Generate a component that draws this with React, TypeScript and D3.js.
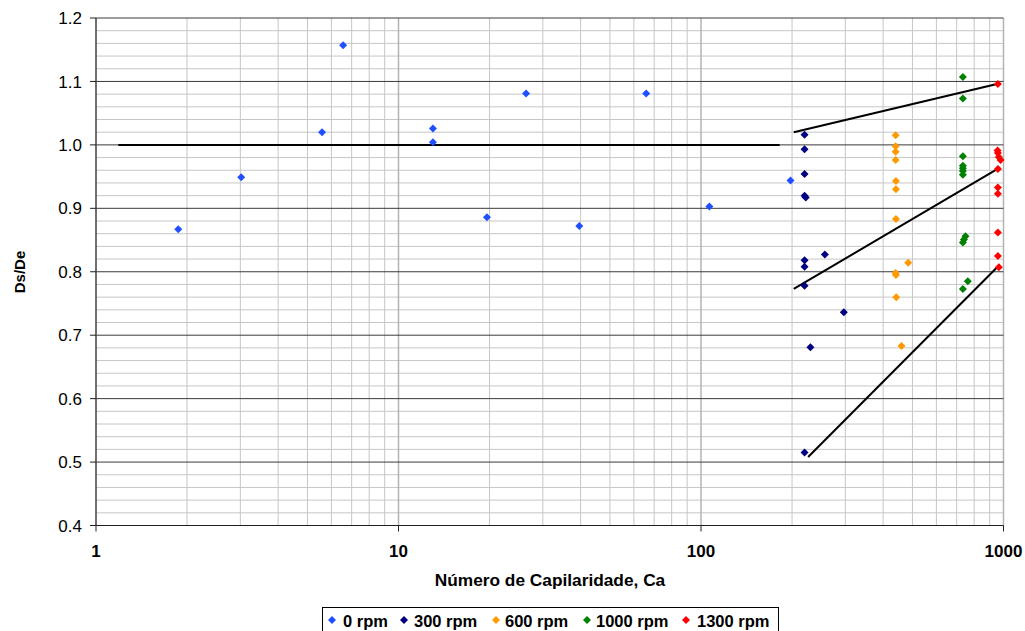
import React from "react";
import * as d3 from "d3";

// Capillary number (Ca) vs. diameter ratio Ds/De, grouped by rotation speed
const rpm0Ca = [1.87, 3.02, 5.59, 6.56, 13.0, 13.0, 19.6, 26.4, 39.6, 65.9, 106.6, 197.6];
const rpm0Ds = [0.867, 0.949, 1.020, 1.157, 1.026, 1.004, 0.886, 1.081, 0.872, 1.081, 0.903, 0.944];

const rpm300Ca = [220, 220, 220, 220, 222, 220, 220, 256.7, 220, 296.6, 230, 220];
const rpm300Ds = [1.016, 0.993, 0.954, 0.920, 0.917, 0.818, 0.808, 0.827, 0.778, 0.736, 0.681, 0.515];

const rpm600Ca = [440, 440, 440, 440, 441, 441, 441, 484, 440, 441, 442, 460];
const rpm600Ds = [1.015, 0.998, 0.989, 0.976, 0.943, 0.930, 0.883, 0.814, 0.798, 0.795, 0.760, 0.683];

const rpm1000Ca = [734, 734, 734, 734, 734, 734, 734, 749, 740, 734, 762, 734];
const rpm1000Ds = [1.107, 1.073, 0.982, 0.967, 0.963, 0.959, 0.953, 0.856, 0.851, 0.846, 0.785, 0.773];

const rpm1300Ca = [958, 956, 958, 965, 978, 958, 958, 958, 958, 958, 965];
const rpm1300Ds = [1.096, 0.991, 0.987, 0.981, 0.976, 0.962, 0.933, 0.923, 0.862, 0.825, 0.807];

const seriesNames = ["0 rpm", "300 rpm", "600 rpm", "1000 rpm", "1300 rpm"];
const seriesColors = ["#1f4fff", "#000080", "#ff9900", "#008000", "#ff0000"];

// Trend segments: [Ca start, Ds start, Ca end, Ds end]
const trendLines = [
  [1.185, 1.0, 182, 1.0],
  [202.6, 1.02, 975, 1.097],
  [202.6, 0.773, 975, 0.9645],
  [226, 0.508, 973, 0.8115],
];

const xTicks = [1, 10, 100, 1000];
const yTicks = [0.4, 0.5, 0.6, 0.7, 0.8, 0.9, 1.0, 1.1, 1.2];

const W = 1025;
const H = 631;
const left = 96;
const right = 1003.5;
const top = 18;
const bottom = 525.5;

export default function App() {
  const x = d3.scaleLog().domain([1, 1000]).range([left, right]);
  const y = d3.scaleLinear().domain([0.4, 1.2]).range([bottom, top]);

  const series = [
    { ca: rpm0Ca, ds: rpm0Ds },
    { ca: rpm300Ca, ds: rpm300Ds },
    { ca: rpm600Ca, ds: rpm600Ds },
    { ca: rpm1000Ca, ds: rpm1000Ds },
    { ca: rpm1300Ca, ds: rpm1300Ds },
  ];

  // minor vertical gridlines 2..9 in every decade
  const minorX: number[] = [];
  for (let dec = 1; dec < 1000; dec *= 10) {
    for (let k = 2; k <= 9; k++) minorX.push(dec * k);
  }
  // minor horizontal gridlines every 0.02
  const minorY: number[] = d3.range(0, 41).map((i) => 0.4 + i * 0.02).filter((v) => Math.round(v * 100) % 10 !== 0);

  const diamond = (cx: number, cy: number, r: number) =>
    `M${cx},${cy - r}L${cx + r},${cy}L${cx},${cy + r}L${cx - r},${cy}Z`;

  const legendItems = [
    { dx: 332, tx: 343 },
    { dx: 404, tx: 414 },
    { dx: 496, tx: 505 },
    { dx: 587, tx: 596 },
    { dx: 686, tx: 697 },
  ];

  return (
    <svg
      width={W}
      height={H}
      style={{ position: "absolute", left: 0, top: 0, background: "#fff" }}
      fontFamily="'Liberation Sans', Arial, sans-serif"
    >
      {/* minor gridlines */}
      {minorX.map((v) => (
        <line key={"mx" + v} x1={x(v)} x2={x(v)} y1={top} y2={bottom} stroke="#c6c6c6" strokeWidth={1} />
      ))}
      {minorY.map((v) => (
        <line key={"my" + v} x1={left} x2={right} y1={y(v)} y2={y(v)} stroke="#c6c6c6" strokeWidth={1} />
      ))}
      {/* major gridlines */}
      {xTicks.slice(1).map((v) => (
        <line key={"Mx" + v} x1={x(v)} x2={x(v)} y1={top} y2={bottom} stroke="#b4b4b4" strokeWidth={1.5} />
      ))}
      {yTicks.slice(1).map((v) => (
        <line key={"My" + v} x1={left} x2={right} y1={y(v)} y2={y(v)} stroke="#3a3a3a" strokeWidth={1} />
      ))}

      {/* axes */}
      <line x1={left} x2={left} y1={top} y2={bottom} stroke="#404040" strokeWidth={1.5} />
      <line x1={left} x2={right} y1={bottom} y2={bottom} stroke="#202020" strokeWidth={1.2} />
      {yTicks.map((v) => (
        <g key={"yt" + v}>
          <line x1={left - 6} x2={left} y1={y(v)} y2={y(v)} stroke="#202020" strokeWidth={1} />
          <text x={82} y={y(v)} dy="0.36em" textAnchor="end" fontSize={17} fill="#000">
            {v.toFixed(1)}
          </text>
        </g>
      ))}
      {xTicks.map((v) => (
        <g key={"xt" + v}>
          <line x1={x(v)} x2={x(v)} y1={bottom} y2={bottom + 6} stroke="#202020" strokeWidth={1} />
          <text x={x(v)} y={557} textAnchor="middle" fontSize={17} fontWeight="bold" fill="#000">
            {v}
          </text>
        </g>
      ))}

      {/* trend segments */}
      {trendLines.map((t, i) => (
        <line
          key={"tl" + i}
          x1={x(t[0])}
          y1={y(t[1])}
          x2={x(t[2])}
          y2={y(t[3])}
          stroke="#000"
          strokeWidth={2}
        />
      ))}

      {/* data points */}
      {series.map((s, si) =>
        s.ca.map((c, i) => (
          <path key={`p${si}-${i}`} d={diamond(x(c), y(s.ds[i]), 4)} fill={seriesColors[si]} />
        ))
      )}

      {/* axis titles */}
      <text x={550} y={586} textAnchor="middle" fontSize={17.3} fontWeight="bold" fill="#000">
        Número de Capilaridade, Ca
      </text>
      <text
        transform="translate(25,272) rotate(-90)"
        textAnchor="middle"
        fontSize={15}
        fontWeight="bold"
        fill="#000"
      >
        Ds/De
      </text>

      {/* legend */}
      <rect x={322.5} y={607.5} width={456} height={30} fill="#fff" stroke="#000" strokeWidth={1} />
      {seriesNames.map((name, i) => (
        <g key={"lg" + i}>
          <path d={diamond(legendItems[i].dx, 620, 4)} fill={seriesColors[i]} />
          <text x={legendItems[i].tx} y={626.5} fontSize={16.5} fontWeight="bold" fill="#000">
            {name}
          </text>
        </g>
      ))}
    </svg>
  );
}
